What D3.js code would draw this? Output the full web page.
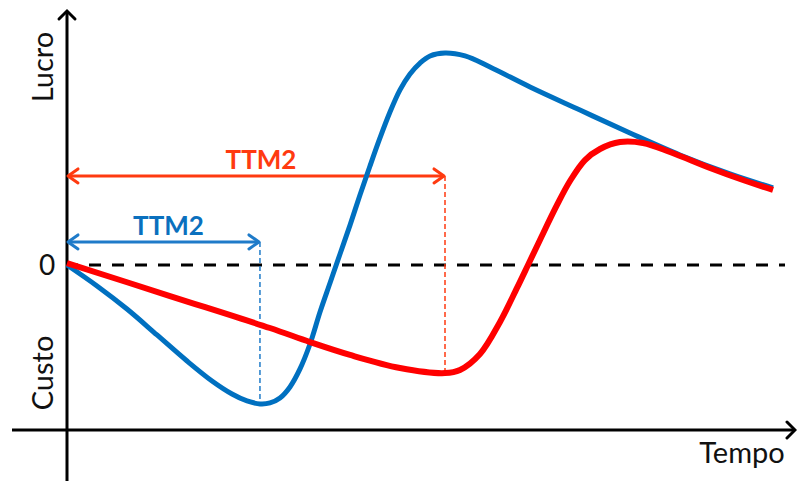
<!DOCTYPE html>
<html><head><meta charset="utf-8">
<script src="https://cdn.jsdelivr.net/npm/d3@7"></script>
<style>html,body{margin:0;padding:0;background:#fff;}svg{display:block;}</style>
</head><body>
<svg id="chart" width="797" height="481"></svg>
<script>
// Time (arbitrary units 0..100) and value (arbitrary units, 0 = break-even)
const blueT = [0, 4.17, 8.33, 12.5, 16.67, 20.14, 22.92, 25.0, 26.81, 28.19, 29.58, 30.97, 32.36, 33.75, 35.14, 36.53, 37.92, 39.31, 40.69, 42.08, 43.47, 44.86, 46.25, 47.64, 49.03, 50.42, 52.5, 55.28, 58.75, 64.31, 71.25, 78.19, 85.14, 92.08, 98.06];
const blueV = [0, -1.27, -2.67, -4.24, -5.82, -7.03, -7.82, -8.24, -8.42, -8.36, -8.06, -7.39, -6.30, -4.79, -2.85, -1.09, 0.67, 2.42, 4.24, 6.00, 7.70, 9.27, 10.61, 11.58, 12.24, 12.67, 12.85, 12.67, 12.0, 10.79, 9.39, 8.0, 6.67, 5.52, 4.67];
const redT = [0, 14.31, 28.19, 33.75, 39.31, 46.25, 52.5, 54.58, 57.36, 60.14, 62.5, 64.03, 65.69, 68.06, 69.86, 71.94, 74.03, 76.81, 80.0, 83.75, 89.31, 93.89, 98.06];
const redV = [0.12, -1.88, -3.82, -4.67, -5.45, -6.24, -6.55, -6.36, -5.39, -3.45, -1.39, 0, 1.52, 3.64, 5.09, 6.36, 7.03, 7.45, 7.39, 6.85, 5.88, 5.15, 4.55];
// TTM annotations
const ttmLabels = ["TTM2", "TTM2"];
const ttmEnd = [26.8, 52.5];
const ttmLevel = [1.4, 5.4];
const ttmFloor = [-8.42, -6.55];
const ttmColors = ["#1F7BC9", "#FF3A10"];
const ttmTextColors = ["#0A70BE", "#FF3A10"];
const axisLabels = {y1: "Lucro", y2: "Custo", zero: "0", x: "Tempo"};

const svg = d3.select("#chart");
const x = d3.scaleLinear().domain([0, 100]).range([67, 787]);
const y = d3.scaleLinear().domain([-10, 15]).range([430, 17.5]);
const FONT = "Lato, 'Open Sans', sans-serif";

// axes
const x0 = x(0), yAxisY = y(-10);
svg.append("line").attr("x1", x0).attr("x2", x0).attr("y1", 481).attr("y2", 11)
  .attr("stroke", "#000").attr("stroke-width", 3);
svg.append("path").attr("d", `M${x0-8},${19} L${x0},${11} L${x0+8},${19}`)
  .attr("fill", "none").attr("stroke", "#000").attr("stroke-width", 3).attr("stroke-linecap", "round");
svg.append("line").attr("x1", 12).attr("x2", 795).attr("y1", yAxisY).attr("y2", yAxisY)
  .attr("stroke", "#000").attr("stroke-width", 3);
svg.append("path").attr("d", `M${787},${yAxisY-8} L${795},${yAxisY} L${787},${yAxisY+8}`)
  .attr("fill", "none").attr("stroke", "#000").attr("stroke-width", 3).attr("stroke-linecap", "round");

// zero line
svg.append("line").attr("x1", x0 - 1).attr("x2", 785).attr("y1", y(0)).attr("y2", y(0))
  .attr("stroke", "#000").attr("stroke-width", 3).attr("stroke-dasharray", "12 11");

// labels
svg.append("text").attr("transform", `translate(53,67) rotate(-90)`).attr("text-anchor", "middle")
  .attr("font-family", FONT).attr("font-size", 29).attr("fill", "#111").text(axisLabels.y1);
svg.append("text").attr("transform", `translate(53,373) rotate(-90)`).attr("text-anchor", "middle")
  .attr("font-family", FONT).attr("font-size", 29).attr("fill", "#111").text(axisLabels.y2);
svg.append("text").attr("x", 47).attr("y", y(0)).attr("dy", "0.35em").attr("text-anchor", "middle")
  .attr("font-family", FONT).attr("font-size", 28).attr("fill", "#111").text(axisLabels.zero);
svg.append("text").attr("x", 742).attr("y", 463).attr("text-anchor", "middle")
  .attr("font-family", FONT).attr("font-size", 29).attr("fill", "#111").text(axisLabels.x);

// TTM annotations
ttmLabels.forEach((lab, i) => {
  const xe = x(ttmEnd[i]), yl = y(ttmLevel[i]), c = ttmColors[i];
  svg.append("line").attr("x1", xe).attr("x2", xe).attr("y1", yl).attr("y2", y(ttmFloor[i]))
    .attr("stroke", c).attr("stroke-width", 1.5).attr("stroke-dasharray", "5 3");
  svg.append("line").attr("x1", x0 + 1).attr("x2", xe - 1).attr("y1", yl).attr("y2", yl)
    .attr("stroke", c).attr("stroke-width", 3);
  svg.append("path").attr("d", `M${x0+11},${yl-7} L${x0+1},${yl} L${x0+11},${yl+7}`)
    .attr("fill", "none").attr("stroke", c).attr("stroke-width", 3).attr("stroke-linecap", "round").attr("stroke-linejoin", "round");
  svg.append("path").attr("d", `M${xe-11},${yl-7} L${xe-1},${yl} L${xe-11},${yl+7}`)
    .attr("fill", "none").attr("stroke", c).attr("stroke-width", 3).attr("stroke-linecap", "round").attr("stroke-linejoin", "round");
  svg.append("text").attr("x", (x0 + xe) / 2 + 5).attr("y", yl - 7).attr("text-anchor", "middle")
    .attr("font-family", FONT).attr("font-weight", "bold").attr("font-size", 26)
    .attr("fill", ttmTextColors[i]).text(lab);
});

// curves
const line = d3.line().x(d => x(d[0])).y(d => y(d[1])).curve(d3.curveCatmullRom.alpha(0.5));
svg.append("path").datum(blueT.map((t, i) => [t, blueV[i]])).attr("d", line)
  .attr("fill", "none").attr("stroke", "#0070C0").attr("stroke-width", 5).attr("stroke-linecap", "butt");
svg.append("path").datum(redT.map((t, i) => [t, redV[i]])).attr("d", line)
  .attr("fill", "none").attr("stroke", "#FF0000").attr("stroke-width", 6).attr("stroke-linecap", "butt");
</script>
</body></html>
